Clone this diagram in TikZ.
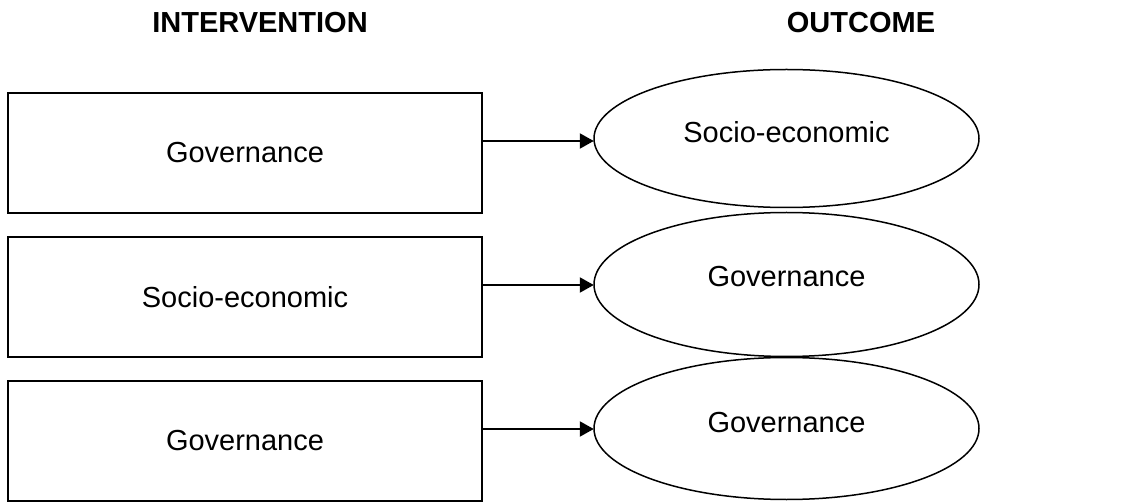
\documentclass[tikz,border=0pt]{standalone}
\usepackage{fontspec}
\setmainfont{Liberation Sans}
\usetikzlibrary{shapes.geometric,arrows.meta,calc}
\begin{document}
\begin{tikzpicture}[x=1pt,y=-1pt,
  every node/.style={font=\fontsize{29}{34}\selectfont},
  header/.style={font=\fontsize{29}{34}\selectfont\bfseries, anchor=base, inner sep=0},
  interv/.style={draw, line width=2.2pt, rectangle, minimum width=474pt, minimum height=120pt, inner sep=0},
  outc/.style={draw, line width=1.5pt, ellipse, minimum width=385pt, inner sep=0},
  link/.style={line width=2.2pt, -{Triangle[length=14pt,width=15pt]}}
]
\useasboundingbox (0,0) rectangle (1140,502);
\fill[white] (0,0) rectangle (1140,502);

\node[header] (hi) at (260,33) {INTERVENTION};
\node[header] (ho) at (861,33) {OUTCOME};

\node[interv] (b1) at (245,153) {Governance};
\node[interv] (b2) at (245,297) {Socio-economic};
\node[interv] (b3) at (245,441) {Governance};

\node[outc, minimum height=138pt, label={[yshift=6pt]center:Socio-economic}] (e1) at (786.5,138.5) {};
\node[outc, minimum height=144pt, label={[yshift=8pt]center:Governance}] (e2) at (786.5,284.5) {};
\node[outc, minimum height=142pt, label={[yshift=6pt]center:Governance}] (e3) at (786.5,428.5) {};

\coordinate (t1) at ($(e1.west)+(0.5,2.5)$);
\coordinate (t2) at ($(e2.west)+(0.5,0.5)$);
\coordinate (t3) at ($(e3.west)+(0.5,0.5)$);
\draw[link] (b1.east |- t1) -- (t1);
\draw[link] (b2.east |- t2) -- (t2);
\draw[link] (b3.east |- t3) -- (t3);
\end{tikzpicture}
\end{document}
